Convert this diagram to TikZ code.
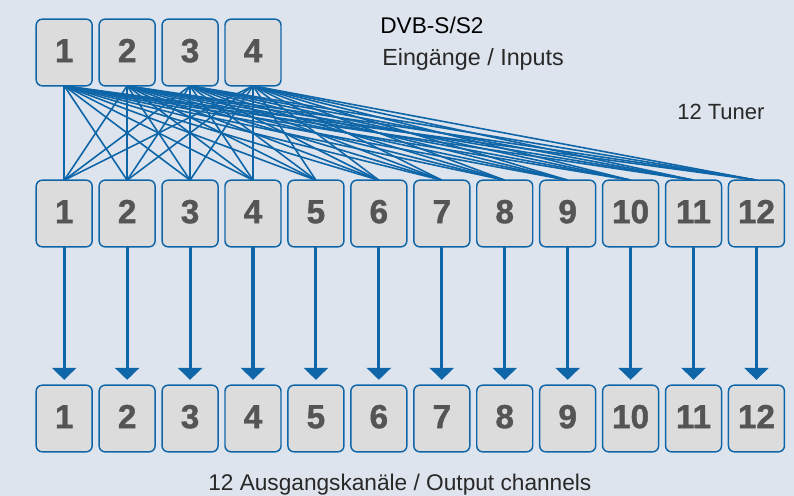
\documentclass[tikz,border=0pt]{standalone}
\usepackage{fontspec}
\setmainfont{Liberation Sans}
\newfontfamily\numfont[FakeBold=1.2]{Liberation Sans Bold}
\usetikzlibrary{arrows.meta}
\usetikzlibrary{positioning}
\definecolor{bgblue}{RGB}{222,228,237}
\definecolor{linkblue}{RGB}{14,102,168}
\definecolor{boxgray}{RGB}{220,220,220}
\definecolor{numgray}{RGB}{85,85,85}
\definecolor{txtgray}{RGB}{40,40,40}
\tikzset{>={Triangle[width=18pt,length=9pt]}}
\tikzset{chbox/.style={draw=linkblue, line width=1.1pt, fill=boxgray, rounded corners=4.5pt,
    minimum width=42pt, minimum height=50pt, inner sep=0pt, outer sep=0pt,
    text=numgray, font=\fontsize{25}{25}\numfont, text height=18pt, text depth=3.5pt}}
\tikzset{caption/.style={anchor=base west, text=txtgray, inner sep=0pt}}

\begin{document}
\begin{tikzpicture}[x=0.75pt,y=-0.75pt,node distance=5.2pt]
    \fill[bgblue] (0,0) rectangle (794,496);
    \useasboundingbox (0,0) rectangle (794,496);
    % inputs
    \node[chbox] (in1) at (64.2,52.5) {1};
    \foreach \i [count=\p] in {2,...,4}
        \node[chbox, right=of in\p] (in\i) {\i};
    % tuners
    \node[chbox] (tun1) at (64.2,213.5) {1};
    \foreach \i [count=\p] in {2,...,12}
        \node[chbox, right=of tun\p] (tun\i) {\i};
    % outputs
    \node[chbox] (out1) at (64.2,418.5) {1};
    \foreach \i [count=\p] in {2,...,12}
        \node[chbox, right=of out\p] (out\i) {\i};
    % every input to every tuner
    \foreach \i in {1,...,4}
        \foreach \j in {1,...,12}
            \draw[linkblue, line width=1.2pt] (in\i.south) -- (tun\j.north);
    \foreach \i in {1,...,12}
        \draw[->, linkblue, line width=2.3pt, shorten >=4pt] (tun\i.south) -- (out\i.north);
    % labels
    \node[caption, text=black, font=\fontsize{17}{17}\selectfont] (title) at (380,33) {DVB-S/S2};
    \node[caption, font=\fontsize{17.5}{17.5}\selectfont] (inlabel) at (382,65) {Eingänge / Inputs};
    \node[caption, font=\fontsize{16.5}{16.5}\selectfont] (tunlabel) at (677,119) {12 Tuner};
    \node[caption, font=\fontsize{17}{17}\selectfont] (outlabel) at (208,490) {12 Ausgangskanäle / Output channels};
\end{tikzpicture}
\end{document}
